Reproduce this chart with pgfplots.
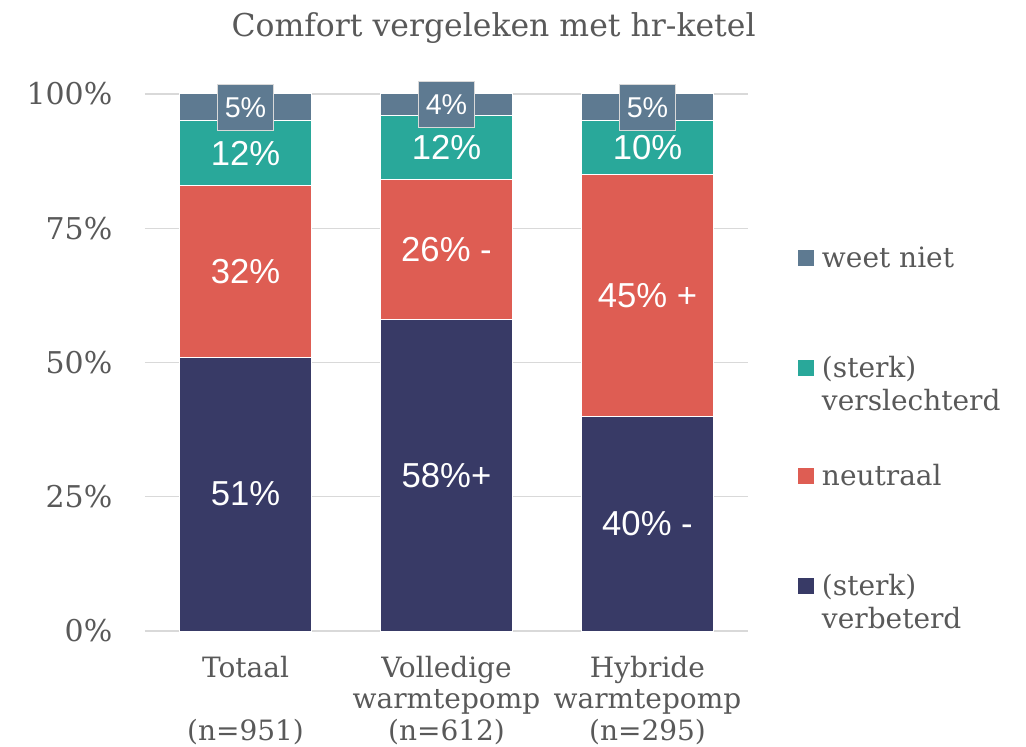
\documentclass[border=0pt]{standalone}
\usepackage{pgfplots}
\pgfplotsset{compat=1.18}
\usepackage{fontspec}
\setmainfont{DejaVu Serif}
\newfontfamily\lblfont{Liberation Sans}
\definecolor{cnavy}{HTML}{383A66}
\definecolor{cred}{HTML}{DE5D53}
\definecolor{cteal}{HTML}{29A89A}
\definecolor{cslate}{HTML}{5E7A91}
\definecolor{ctext}{HTML}{595959}
\definecolor{cgrid}{HTML}{D9D9D9}
\begin{document}
\begin{tikzpicture}
\useasboundingbox (-108.75pt,-87pt) rectangle (660.75pt,473.25pt);
\pgfplotsset{common/.style={width=452.25pt,height=402.75pt,scale only axis,
  xmin=-0.5,xmax=2.5,ymin=0,ymax=100,at={(0,0)},anchor=south west,clip=false}}
\begin{axis}[common, ybar stacked, bar width=99pt,
  axis line style={draw=none}, major tick length=0pt,
  ymajorgrids, grid style={cgrid, line width=1pt},
  ytick={0,25,50,75,100}, yticklabels={0\%,25\%,50\%,75\%,100\%},
  yticklabel style={font=\fontsize{22.5}{26}\selectfont, text=ctext, xshift=-21pt},
  xtick={0,1,2},
  xticklabels={{Totaal\\\mbox{}\\(n=951)},{Volledige\\warmtepomp\\(n=612)},{Hybride\\warmtepomp\\(n=295)}},
  xticklabel style={font=\fontsize{21}{23.5}\selectfont, text=ctext, align=center, yshift=-15.5pt},
  title={Comfort vergeleken met hr-ketel},
  title style={at={(0.578,1)}, anchor=base, yshift=37pt, font=\fontsize{23.6}{27}\selectfont, text=ctext},
  reverse legend,
  legend style={at={(1.083,0.721)}, anchor=north west, draw=none, fill=none, inner sep=0pt,
    font=\fontsize{21}{25}\selectfont, text=ctext, row sep=59.5pt, cells={anchor=base west}},
]
\addplot[fill=cnavy, draw=white, line width=0.75pt, legend image code/.code={\fill[cnavy] (0pt,1.5pt) rectangle (11pt,12.5pt); \path (15pt,0pt);}] coordinates {(0,51) (1,58) (2,40)};
\addlegendentry{\begin{tabular}[t]{@{}l@{}}(sterk)\\verbeterd\end{tabular}}
\addplot[fill=cred, draw=white, line width=0.75pt, legend image code/.code={\fill[cred] (0pt,1.5pt) rectangle (11pt,12.5pt); \path (15pt,0pt);}] coordinates {(0,32) (1,26) (2,45)};
\addlegendentry{neutraal}
\addplot[fill=cteal, draw=white, line width=0.75pt, legend image code/.code={\fill[cteal] (0pt,1.5pt) rectangle (11pt,12.5pt); \path (15pt,0pt);}] coordinates {(0,12) (1,12) (2,10)};
\addlegendentry{\begin{tabular}[t]{@{}l@{}}(sterk)\\verslechterd\end{tabular}}
\addplot[fill=cslate, draw=white, line width=0.75pt, legend image code/.code={\fill[cslate] (0pt,1.5pt) rectangle (11pt,12.5pt); \path (15pt,0pt);}] coordinates {(0,5) (1,4) (2,5)};
\addlegendentry{weet niet}
\end{axis}
\begin{axis}[common, hide axis]
\addplot[only marks, mark=*, mark size=0pt, mark options={draw=none,fill=none},
  nodes near coords, point meta=explicit symbolic,
  nodes near coords style={font=\lblfont\fontsize{26}{30}\selectfont, text=white, anchor=center}]
  coordinates {(0,25.5)[51\%] (0,67)[32\%] (0,89)[12\%]
               (1,29)[58\%+] (1,71)[26\% -] (1,90)[12\%]
               (2,20)[40\% -] (2,62.5)[45\% +] (2,90)[10\%]};
\addplot[only marks, mark=*, mark size=0pt, mark options={draw=none,fill=none},
  nodes near coords, point meta=explicit symbolic,
  nodes near coords style={font=\lblfont\fontsize{21.5}{25}\selectfont, text=white, anchor=center,
    fill=cslate, draw=cgrid, line width=0.75pt, minimum height=34.5pt, minimum width=42pt, inner xsep=2pt}]
  coordinates {(0,97.5)[5\%] (1,98)[4\%] (2,97.5)[5\%]};
\end{axis}
\end{tikzpicture}
\end{document}
